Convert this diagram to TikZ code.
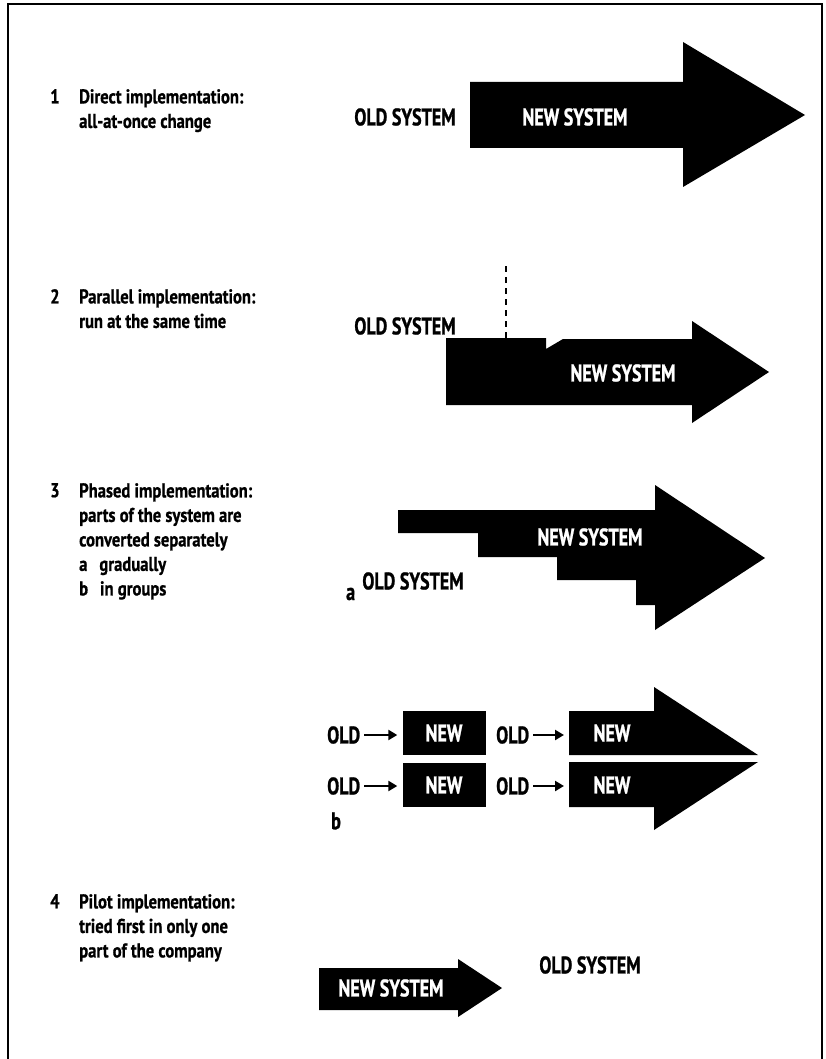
\documentclass[tikz,border=0pt]{standalone}
\usepackage{fontspec}
\setmainfont{PT Sans}
\newfontfamily\descfont{PT Sans}[FakeStretch=0.83,BoldFeatures={FakeBold=0.8}]
\newfontfamily\lblfont{PT Sans}[FakeStretch=0.75,BoldFeatures={FakeBold=1}]
\usetikzlibrary{arrows.meta}
\begin{document}
\begin{tikzpicture}[
  x=1pt,y=-1pt,
  desc/.style={anchor=north west,align=left,inner sep=0pt,font=\descfont\fontsize{20}{24.5}\selectfont\bfseries},
  lbl/.style={inner sep=0pt,font=\lblfont\fontsize{24}{26}\selectfont\bfseries},
  newlbl/.style={lbl,text=white},
  newbox/.style={lbl,text=white,fill=black,minimum width=83pt,minimum height=44pt},
  blk/.style={fill=black,draw=none},
  toarrow/.style={line width=2.5pt,shorten <=4pt,shorten >=5pt,-{Triangle[length=9pt,width=10pt]}}
]
\useasboundingbox (0,0) rectangle (825,1059);
\draw[line width=2.5pt] (8,1059) -- (8,4) -- (822,4) -- (822,1059);

% 1 direct
\node[desc] (n1) at (50,89) {1};
\node[desc] (t1) at (79,89) {Direct implementation:\\all-at-once change};
\node[lbl] (old1) at (405,117) {OLD SYSTEM};
\fill[blk] (470,82) -- (683,82) -- (683,42) -- (805,115) -- (683,187) -- (683,148) -- (470,148) -- cycle;
\node[newlbl] (new1) at (575,117) {NEW SYSTEM};

% 2 parallel
\node[desc] (n2) at (50,289) {2};
\node[desc] (t2) at (79,289) {Parallel implementation:\\run at the same time};
\node[lbl] (old2) at (405,326) {OLD SYSTEM};
\coordinate (dtop) at (506,266);
\coordinate (dbot) at (506,338);
\draw[line width=2.5pt,dash pattern=on 6pt off 5pt] (dtop) -- (dbot);
\fill[blk] (446,338) -- (546,338) -- (546,349) -- (563,339) -- (692,339) -- (692,321)
  -- (769,372) -- (692,423) -- (692,405) -- (446,405) -- cycle;
\node[newlbl] (new2) at (623,373) {NEW SYSTEM};

% 3 phased
\node[desc] (n3) at (50,483) {3};
\node[desc] (t3) at (79,483) {Phased implementation:\\parts of the system are\\converted separately\\a\hspace{12pt}gradually\\b\hspace{12pt}in groups};
\fill[blk] (398,510) -- (655,510) -- (655,485) -- (765,558) -- (655,630) -- (655,605)
  -- (636,605) -- (636,580) -- (557,580) -- (557,557) -- (478,557) -- (478,533) -- (398,533) -- cycle;
\node[newlbl] (new3) at (590,537) {NEW SYSTEM};
\node[lbl] (old3) at (413,581) {OLD SYSTEM};
\node[lbl,anchor=west] (la) at (346,594) {a};

% 3b in groups
\node[newbox] (nb1) at (444,733) {NEW};
\node[newbox] (nb2) at (444,785) {NEW};
\node[lbl,anchor=west] (ob1) at (327,735) {OLD};
\node[lbl,anchor=west] (ob2) at (327,786) {OLD};
\node[lbl,anchor=west] (ob3) at (496,735) {OLD};
\node[lbl,anchor=west] (ob4) at (496,786) {OLD};
\fill[blk] (569,711) -- (654,711) -- (654,687) -- (758,755) -- (569,755) -- cycle;
\fill[blk] (569,762) -- (758,762) -- (654,830) -- (654,807) -- (569,807) -- cycle;
\coordinate (g1) at (569,735);
\coordinate (g2) at (569,786);
\node[newlbl] (nb3) at (612,733) {NEW};
\node[newlbl] (nb4) at (612,785) {NEW};
\draw[toarrow] (ob1) -- (nb1.west |- ob1);
\draw[toarrow] (ob2) -- (nb2.west |- ob2);
\draw[toarrow] (ob3) -- (g1);
\draw[toarrow] (ob4) -- (g2);
\node[lbl,anchor=west] (lb) at (331,821) {b};

% 4 pilot
\node[desc] (n4) at (50,894) {4};
\node[desc] (t4) at (79,894) {Pilot implementation:\\tried first in only one\\part of the company};
\fill[blk] (319,968) -- (458,968) -- (458,959) -- (502,988) -- (458,1017) -- (458,1010) -- (319,1010) -- cycle;
\node[newlbl] (new4) at (391,988) {NEW SYSTEM};
\node[lbl] (old4) at (590,965) {OLD SYSTEM};
\end{tikzpicture}
\end{document}
